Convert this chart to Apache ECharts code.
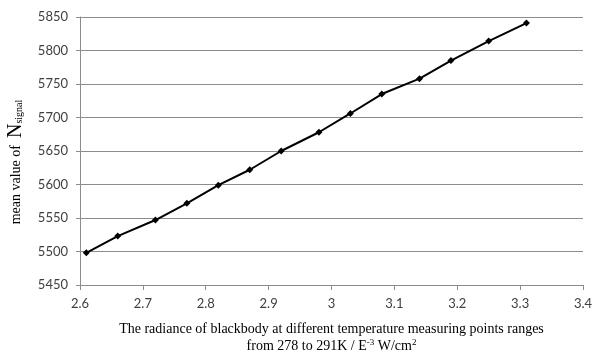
<!DOCTYPE html>
<html>
<head>
<meta charset="utf-8">
<script src="https://cdn.jsdelivr.net/npm/echarts@6/dist/echarts.min.js"></script>
<style>
  html, body { margin: 0; padding: 0; background: #fff; }
  #chart { width: 600px; height: 351px; }
</style>
</head>
<body>
<div id="chart"></div>
<script>
// radiance (E-3 W/cm2) per measuring point, 278..291 K
var radiance = [2.61, 2.66, 2.72, 2.77, 2.82, 2.87, 2.92, 2.98, 3.03, 3.08, 3.14, 3.19, 3.25, 3.31]
// mean value of N_signal
var meanSignal = [5498, 5523, 5547, 5572, 5599, 5622, 5650, 5678, 5706, 5735, 5758, 5785, 5814, 5841]

var xMin = 2.6, xMax = 3.4, xStep = 0.1
var yMin = 5450, yMax = 5850, yStep = 50

var points = radiance.map(function (r, i) { return [r, meanSignal[i]] })

var chart = echarts.init(document.getElementById('chart'))
var gray = '#8c8c8c'
var serif = '"Liberation Serif", "Times New Roman", serif'
var tickFont = { color: '#404040', fontSize: 13, fontFamily: 'Lato, "Open Sans", sans-serif' }

chart.setOption({
  animation: false,
  grid: { left: 80, right: 17, top: 17, bottom: 66, outerBoundsMode: 'none', containLabel: false },
  xAxis: {
    type: 'value',
    min: xMin, max: xMax, interval: xStep,
    axisLine: { show: true, lineStyle: { color: gray, width: 1 } },
    axisTick: { show: true, length: 5, lineStyle: { color: gray } },
    splitLine: { show: false },
    axisLabel: Object.assign({ margin: 12, formatter: function (v) { return +v.toFixed(1) } }, tickFont),
    name: '{t|The radiance of blackbody at different temperature measuring points ranges}\n' +
          '{t|from 278 to 291K / E}{s|-3}{t| W/cm}{s|2}',
    nameLocation: 'middle',
    nameGap: 36,
    nameTextStyle: {
      rich: {
        t: { fontFamily: serif, fontSize: 14, color: '#000', lineHeight: 17 },
        s: { fontFamily: serif, fontSize: 9, color: '#000', verticalAlign: 'top', lineHeight: 17, padding: [0, 0, 6, 0] }
      }
    }
  },
  yAxis: {
    type: 'value',
    min: yMin, max: yMax, interval: yStep,
    axisLine: { show: true, lineStyle: { color: gray, width: 1 } },
    axisTick: { show: true, length: 4, lineStyle: { color: gray } },
    splitLine: { show: true, lineStyle: { color: gray, width: 1 } },
    axisLabel: Object.assign({ margin: 12, formatter: function (v) { return String(v) } }, tickFont),
    name: '{t|mean value of  }{n|N}{s|signal}',
    nameLocation: 'middle',
    nameGap: 54,
    nameTextStyle: {
      padding: [0, 22, 0, 0],
      rich: {
        t: { fontFamily: serif, fontSize: 14, color: '#000' },
        n: { fontFamily: serif, fontSize: 20, color: '#000' },
        s: { fontFamily: serif, fontSize: 10, color: '#000', padding: [6, 0, 0, 0] }
      }
    }
  },
  series: [{
    type: 'line',
    data: points,
    symbol: 'diamond',
    symbolSize: 7,
    lineStyle: { color: '#000', width: 2 },
    itemStyle: { color: '#000' }
  }]
})
</script>
</body>
</html>
